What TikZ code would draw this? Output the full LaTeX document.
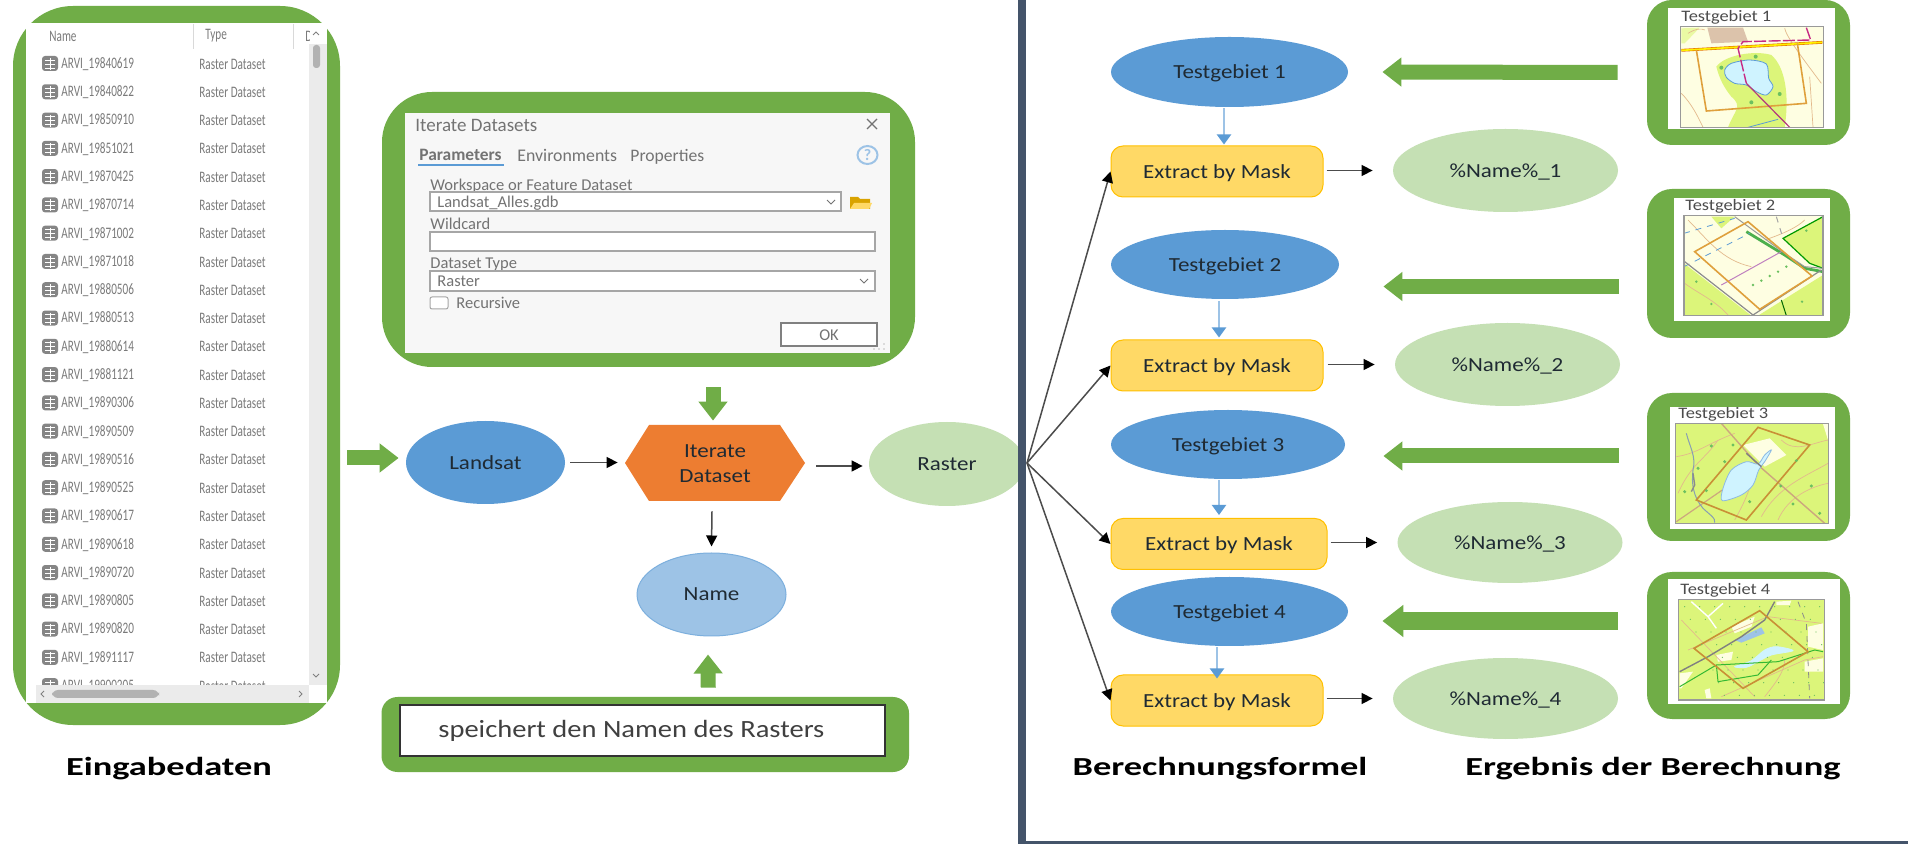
\documentclass[tikz,border=0pt]{standalone}
\usepackage{fontspec}
\usetikzlibrary{shapes.geometric,arrows.meta,calc}
\setmainfont{Carlito}
\newfontfamily\lblfam[FakeStretch=1.15]{Carlito}
\newfontfamily\ttlfam[FakeStretch=1.40]{Carlito}
\newfontfamily\lstfam[FakeStretch=0.7]{Carlito}
\newcommand\lblf{\lblfam\fontsize{10}{12.5}\selectfont}
\newcommand\mapf{\lblfam\fontsize{8}{10}\selectfont}
\newcommand\ttlf{\ttlfam\bfseries\fontsize{13}{15}\selectfont}
\newcommand\lstf{\lstfam\fontsize{8}{10}\selectfont}
\newcommand\dlgf{\fontsize{8.25}{10}\selectfont}
\definecolor{grn}{HTML}{70AD47}
\definecolor{lgrn}{HTML}{C5E0B4}
\definecolor{blu}{HTML}{5B9BD5}
\definecolor{lblu}{HTML}{9DC3E6}
\definecolor{org}{HTML}{ED7D31}
\definecolor{yel}{HTML}{FFD966}
\definecolor{yelb}{HTML}{FFC000}
\definecolor{bar}{HTML}{44546A}
\definecolor{txt}{HTML}{1F2A33}
\definecolor{cream}{HTML}{FEFEE2}
\definecolor{mgrn}{HTML}{DCF57A}
\definecolor{lake}{HTML}{CFF3FF}
\definecolor{mor}{HTML}{DFA03C}
\definecolor{tan}{HTML}{E3B98C}
\definecolor{mbrown}{HTML}{DCC3AB}
\definecolor{mdot}{HTML}{6CC060}
\tikzset{
  panel/.style={fill=grn,rounded corners=12.5pt,inner sep=0pt},
  oval/.style={ellipse,inner sep=0pt,font=\lblf,text=txt,align=center,text depth=0pt},
  bluov/.style={oval,fill=blu},
  greenov/.style={oval,fill=lgrn},
  mask/.style={rounded corners=6pt,fill=yel,draw=yelb,line width=.5pt,inner sep=0pt,minimum width=106pt,minimum height=25.5pt,font=\lblf,text=txt,text depth=0pt},
  thin arrow/.style={draw=black!70,line width=.75pt,-{Triangle[length=5.5pt,width=5.5pt,color=black]}},
  blue arrow/.style={draw=lblu,line width=1pt,-{Triangle[length=5pt,width=7pt,color=blu]}},
  block arrow/.style={draw=grn,line width=7.5pt,-{Triangle[length=9.5pt,width=14pt]}},
  title/.style={font=\ttlf,text=black,inner sep=0pt,text depth=0pt},
  lst/.style={font=\lstf,text=black!52,inner sep=0pt,anchor=west},
  dlg/.style={font=\dlgf,text=black!55,inner sep=0pt,anchor=west,text depth=0pt},
  fieldbox/.style={fill=white,draw=black!35,line width=.6pt},
  maptitle/.style={font=\mapf,text=black!70,inner sep=0pt,anchor=west},
  mapframe/.style={draw=black!40,line width=.6pt},
  contour/.style={draw=tan,line width=.35pt},
}
\begin{document}
\begin{tikzpicture}[x=.5pt,y=-.5pt]
\useasboundingbox (0,0) rectangle (1908,844);
\fill[white] (0,0) rectangle (1908,844);

% ---------- input list
\node[panel,rounded corners=30pt,minimum width=163.5pt,minimum height=359.5pt] (inp) at (176.5,365.5) {};
\fill[white] (26,23) rectangle (327,703);
\begin{scope}
\clip (26,23) rectangle (309,685);
\draw[black!15,line width=.5pt] (193,24) -- (193,49) (293,24) -- (293,49);
\node[lst] (hname) at (49,36) {Name};
\node[lst] (htype) at (205,36) {Type};
\node[lst] (hdate) at (305,36) {D};
\foreach \n [count=\i from 0] in {19840619,19840822,19850910,19851021,19870425,19870714,19871002,19871018,19880506,19880513,19880614,19881121,19890306,19890509,19890516,19890525,19890617,19890618,19890720,19890805,19890820,19891117,19900205}{
  \pgfmathsetmacro\yy{64+28.28*\i}
  \fill[black!48,rounded corners=1.5pt] (42,{\yy-8}) rectangle (58,{\yy+7});
  \draw[white,line width=.4pt] (45,{\yy-4}) -- (55,{\yy-4}) (45,{\yy}) -- (55,{\yy}) (45,{\yy+4}) -- (55,{\yy+4}) (50,{\yy-6}) -- (50,{\yy+6});
  \node[lst] (nm\i) at (61,\yy) {ARVI\_\n};
  \node[lst] (ty\i) at (199,\yy) {Raster Dataset};
}
\end{scope}
\fill[black!8] (309,44) rectangle (327,685);
\fill[black!30,rounded corners=1.5pt] (313,45) rectangle (320,68);
\draw[black!50,line width=.4pt] (313,35) -- (316,32) -- (319,35);
\draw[black!50,line width=.4pt] (313,674) -- (316,677) -- (319,674);
\fill[black!8] (36,685) rectangle (309,703);
\fill[black!30,rounded corners=3pt] (52,690) rectangle (159,698);
\draw[black!50,line width=.4pt] (44,691) -- (41,694) -- (44,697);
\draw[black!50,line width=.4pt] (299,691) -- (302,694) -- (299,697);
\node[title] (lbla) at (169,766) {Eingabedaten};

% ---------- dialog
\node[panel,rounded corners=25pt,minimum width=266.5pt,minimum height=137.5pt] (dia) at (648.5,229.5) {};
\fill[black!3] (405,113) rectangle (890,353);
\node[dlg,font=\fontsize{9.5}{11}\selectfont] (dt) at (415,125) {Iterate Datasets};
\draw[black!55,line width=.6pt] (867,119) -- (877,129) (877,119) -- (867,129);
\node[dlg,font=\bfseries\fontsize{8.7}{10}\selectfont] (t1a) at (419,155) {Parameters};
\node[dlg,font=\fontsize{8.9}{10}\selectfont] (t2a) at (517,155) {Environments};
\node[dlg,font=\fontsize{8.8}{10}\selectfont] (t3a) at (630,155) {Properties};
\fill[blu] (418,164) rectangle (504,166.5);
\draw[lblu,line width=1pt] (867.5,155) circle[x radius=10,y radius=9];
\node[inner sep=0pt,font=\fontsize{8}{9}\selectfont\bfseries,text=lblu] (help) at (867.5,155) {?};
\node[dlg] (w1) at (430,185) {Workspace or Feature Dataset};
\draw[fieldbox] (430,192) rectangle (841,211);
\node[dlg] (w2) at (437,202) {Landsat\_Alles.gdb};
\draw[black!55,line width=.5pt] (827,200) -- (831,204) -- (835,200);
\fill[yelb!85!black] (850,209) -- (850,197) -- (858,197) -- (860,199) -- (870,199) -- (870,209) -- cycle;
\fill[yel] (850,209) -- (854,203) -- (872,203) -- (869,209) -- cycle;
\node[dlg] (w3) at (430,224) {Wildcard};
\draw[fieldbox] (430,232) rectangle (875,251);
\node[dlg] (w4) at (430,263) {Dataset Type};
\draw[fieldbox] (430,271) rectangle (875,291);
\node[dlg] (w5) at (437,281) {Raster};
\draw[black!55,line width=.5pt] (860,279) -- (864,283) -- (868,279);
\draw[fill=white,draw=black!35,line width=.5pt,rounded corners=1pt] (430,297) rectangle (448,309);
\node[dlg] (w6) at (456,303) {Recursive};
\draw[fill=white,draw=black!50,line width=.7pt] (781,323) rectangle (877,346);
\node[dlg,anchor=center] (okb) at (829,335) {OK};
\foreach \a/\b in {884/344,884/349,879/349,874/349}{\fill[black!25] (\a,\b) circle[radius=.8];}

% ---------- flow, left
\node[bluov,minimum width=79.5pt,minimum height=41.5pt] (land) at (485.5,462.5) {Landsat};
\fill[org] (625,463) -- (649,425) -- (780,425) -- (805,463) -- (780,501) -- (649,501) -- cycle;
\node[inner sep=0pt,minimum width=90pt,minimum height=38pt,font=\lblf,text=txt,align=center] (hex) at (715,464) {Iterate\\Dataset};
\node[greenov,minimum width=78pt,minimum height=42pt] (rast) at (947,464) {Raster};
\node[oval,fill=lblu,draw=blu!80,line width=.5pt,minimum width=74.5pt,minimum height=41.5pt] (name) at (711.5,594.5) {Name};
\node[panel,rounded corners=8pt,minimum width=263.75pt,minimum height=37.5pt] (spei) at (645.25,734.5) {};
\node[draw=black!80,line width=.6pt,fill=white,minimum width=242.5pt,minimum height=25.5pt,inner sep=0pt] (speit) at (642.5,730.5) {};
\node[inner sep=0pt,font=\lblfam\fontsize{12.4}{14}\selectfont,text=black!75,anchor=west] (speil) at (438,731) {speichert den Namen des Rasters};
\draw[thin arrow] ([shift={(5,0)}]land.east) -- ([shift={(-7,-1.5)}]hex.west);
\draw[thin arrow] ([shift={(11,2)}]hex.east) -- ([shift={(-6,2)}]rast.west);
\draw[thin arrow] ([shift={(-3,9)}]hex.south) -- ([shift={(0,-6)}]name.north);
\coordinate (inR) at (347,458);
\draw[block arrow] (inR) -- ([shift={(-7,-4.5)}]land.west);
\draw[block arrow] ([shift={(64.5,20)}]dia.south) -- ([shift={(-2,-5)}]hex.north);
\draw[block arrow] ([shift={(63,-9)}]spei.north) -- ([shift={(-3.5,18)}]name.south);

% ---------- divider frame
\fill[bar] (1018,0) rectangle (1026,844);
\fill[bar] (1018,841) rectangle (1908,844);

% ---------- right: map panels
\node[panel,minimum width=101.5pt,minimum height=72.5pt] (m1) at (1748.5,72.5) {};
\node[panel,minimum width=101.5pt,minimum height=74.5pt] (m2) at (1748.5,263.5) {};
\node[panel,minimum width=101.5pt,minimum height=74pt] (m3) at (1748.5,467) {};
\node[panel,minimum width=101.5pt,minimum height=73.5pt] (m4) at (1748.5,645.5) {};
\fill[white] (1668,8) rectangle (1835,129);
\fill[white] (1674,198) rectangle (1830,321);
\fill[white] (1670,407) rectangle (1835,529);
\fill[white] (1668,579) rectangle (1840,704);
\node[maptitle] (mt1) at (1681,17) {Testgebiet 1};
\node[maptitle] (mt2) at (1685,206) {Testgebiet 2};
\node[maptitle] (mt3) at (1678,414) {Testgebiet 3};
\node[maptitle] (mt4) at (1680,590) {Testgebiet 4};

% map 1
\begin{scope}[shift={(1388,0)},x=.16667pt,y=-.16667pt]
\begin{scope}
\clip (877,80) rectangle (1307,382);
\fill[cream] (877,80) rectangle (1307,382);
\fill[mgrn!60!cream] (880,85) -- (935,83) -- (890,130) -- (880,130) -- cycle;
\fill[mgrn] (985,200) .. controls (1010,165) and (1100,150) .. (1150,165) .. controls (1190,200) and (1205,280) .. (1190,382) -- (1020,382) .. controls (1040,330) and (1065,320) .. (1030,290) .. controls (1010,265) and (995,240) .. (985,200) -- cycle;
\fill[mbrown] (958,83) -- (1065,83) -- (1080,125) -- (970,130) -- cycle;
\draw[contour] (880,280) .. controls (910,310) and (930,350) .. (945,382);
\draw[contour] (1190,85) .. controls (1195,110) and (1240,170) .. (1300,250);
\draw[contour] (1265,230) -- (1275,382);
\draw[contour] (900,100) .. controls (925,85) and (940,85) .. (950,90);
\draw[fill=lake,draw=blu,line width=.4pt] plot[smooth cycle] coordinates {(1010,210) (1030,190) (1085,180) (1135,192) (1142,235) (1155,260) (1135,285) (1105,275) (1075,255) (1040,250) (1015,232)};
\draw[orange!90!black,line width=1.4pt] (880,151) -- (1303,127);
\draw[yellow,line width=.8pt] (880,151) -- (1303,127);
\draw[mor,line width=.8pt] (925,150) -- (955,333) -- (1255,310) -- (1228,130);
\draw[blu,line width=.4pt] (1080,382) -- (1170,358);
\draw[magenta!80!black,line width=.7pt,dash pattern=on 6pt off 1.2pt] (1255,83) -- (1268,120) -- (1065,125) -- (1050,145) -- (1075,250);
\draw[magenta!70!black,line width=.6pt] (1075,250) -- (1205,382);
\foreach \a/\b in {1000/203,1103/170,1090/307,1175/282}{\fill[mdot] (\a,\b) circle[radius=6];}
\end{scope}
\draw[mapframe] (877,80) rectangle (1307,382);
\end{scope}

% map 2
\begin{scope}[shift={(1388,0)},x=.16667pt,y=-.16667pt]
\begin{scope}
\clip (888,647) rectangle (1305,947);
\fill[cream] (888,647) rectangle (1305,947);
\fill[mgrn] (970,650) -- (1040,650) -- (1000,685) -- cycle;
\fill[mgrn] (888,790) -- (1090,947) -- (888,947) -- cycle;
\fill[mgrn] (1110,947) -- (1305,825) -- (1305,947) -- cycle;
\draw[fill=mgrn,draw=green!60!black,line width=.6pt] (1185,715) -- (1305,650) -- (1305,805) -- (1265,790) -- cycle;
\draw[contour] (900,660) .. controls (960,720) and (1000,780) .. (1090,800);
\draw[contour] (1130,720) .. controls (1190,700) and (1230,680) .. (1250,660);
\draw[contour] (890,850) .. controls (930,880) and (980,900) .. (1020,945);
\draw[green!55!black!70,line width=1.4pt] (1075,695) -- (1190,765) -- (1250,805) -- (1305,815);
\draw[black!40,line width=.5pt] (1040,650) -- (1190,760) -- (1250,800) -- (1305,805);
\draw[blu,line width=.4pt,dashed] (888,700) -- (1040,655);
\draw[blu,line width=.4pt,dashed] (888,800) -- (1085,700);
\draw[violet!50,line width=.5pt] (1000,855) -- (1180,755);
\draw[black!45,line width=.6pt] (890,785) -- (1095,945) -- (1300,810);
\draw[black!35,line width=.5pt,dashed] (1165,650) -- (1185,715);
\draw[green!40!black,line width=.5pt] (1180,900) -- (1195,947);
\draw[mor,line width=.8pt] (920,755) -- (1080,665) -- (1272,828) -- (1115,928) -- cycle;
\foreach \a/\b in {925/845,970/912,1242/905,1095/855,1120/842,1145/828,1170/815,1195/800,1255/692}{\fill[mdot] (\a,\b) circle[radius=4];}
\end{scope}
\draw[mapframe] (888,647) rectangle (1305,947);
\end{scope}

% map 3
\begin{scope}[shift={(1388,420)},x=.16667pt,y=-.16667pt]
\begin{scope}
\clip (862,10) rectangle (1322,310);
\fill[mgrn] (862,10) rectangle (1322,310);
\fill[cream] (1065,75) -- (1145,55) -- (1195,105) -- (1130,140) -- cycle;
\fill[cream] (1305,12) -- (1320,12) -- (1320,60) -- cycle;
\draw[contour] (865,110) .. controls (930,100) and (960,70) .. (1040,40);
\draw[contour] (870,220) .. controls (910,130) and (950,120) .. (990,60);
\draw[contour] (1120,290) .. controls (1170,200) and (1250,170) .. (1320,130);
\draw[contour] (1170,300) .. controls (1200,230) and (1270,200) .. (1320,190);
\draw[contour] (1040,300) .. controls (1080,230) and (1100,170) .. (1090,150);
\draw[contour] (1180,60) .. controls (1220,100) and (1270,70) .. (1320,60);
\draw[tan!90!black,line width=.7pt] (1000,10) -- (1110,135) -- (1310,310);
\draw[tan!90!black,line width=.6pt] (865,305) -- (1003,210);
\draw[blu!60!black!60,line width=.5pt] (895,40) .. controls (905,80) and (925,110) .. (915,150) .. controls (910,190) and (915,230) .. (945,265) .. controls (960,280) and (985,295) .. (980,308);
\draw[black!45,line width=.7pt] (915,160) -- (920,195) -- (910,215);
\draw[fill=lake,draw=blu!70,line width=.4pt] plot[smooth cycle] coordinates {(1003,242) (1005,205) (1030,150) (1075,125) (1110,132) (1130,105) (1150,90) (1130,125) (1112,150) (1095,195) (1060,225)};
\draw[black!50,line width=.7pt] (1075,100) -- (1120,140);
\draw[mor!90!black,line width=.8pt] (925,240) -- (1110,22) -- (1265,75) -- (1075,300) -- cycle;
\foreach \a/\b in {970/78,1035/75,930/145,1010/125,890/215,955/212,1085/245,1178/198,1270/198,1215/252,1295/280,1225/122}{\fill[mdot] (\a,\b) circle[radius=5];}
\end{scope}
\draw[mapframe] (862,10) rectangle (1322,310);
\end{scope}

% map 4
\begin{scope}[shift={(1388,420)},x=.16667pt,y=-.16667pt]
\begin{scope}
\clip (872,538) rectangle (1310,840);
\fill[mgrn] (872,538) rectangle (1310,840);
\fill[cream] (1260,620) -- (1305,610) -- (1305,690) -- (1260,680) -- cycle;
\fill[cream] (1250,725) -- (1305,715) -- (1305,755) -- (1250,755) -- cycle;
\fill[cream] (875,760) -- (915,755) -- (880,805) -- (875,805) -- cycle;
\fill[cream] (985,705) -- (1035,695) -- (1030,720) -- (990,725) -- cycle;
\fill[cream] (1030,620) -- (1100,590) -- (1090,620) -- (1040,640) -- cycle;
\fill[cream] (1165,545) -- (1210,542) -- (1205,555) -- (1165,555) -- cycle;
\fill[cream] (950,810) -- (965,805) -- (970,835) -- (955,835) -- cycle;
\draw[white,line width=.7pt] (910,545) -- (960,590) -- (1005,550) (960,590) -- (985,625);
\draw[contour] (880,600) -- (1100,830);
\draw[contour] (900,690) -- (1140,590) -- (1300,610);
\draw[contour] (1000,830) -- (1250,720) -- (1305,710);
\draw[contour] (1130,830) .. controls (1170,780) and (1190,750) .. (1190,720);
\draw[fill=lake,draw=lake] plot[smooth cycle] coordinates {(1040,740) (1090,722) (1130,690) (1165,680) (1215,692) (1150,705) (1110,725) (1075,742)};
\fill[blu!60] (1040,660) -- (1120,622) -- (1130,640) -- (1060,668) -- cycle;
\draw[black!50,line width=.7pt] (875,755) -- (960,710) -- (1060,650) -- (1130,600) -- (1160,545);
\draw[black!45,line width=.4pt,dashed] (1230,545) -- (1255,610) -- (1265,835);
\draw[green!65!black!80,line width=.5pt] (875,800) -- (985,735) -- (1170,725) -- (1280,690) -- (1305,695);
\draw[green!65!black!80,line width=.5pt] (985,735) -- (990,785) -- (1110,765) -- (1150,720);
\draw[mor!90!black,line width=.8pt] (918,685) -- (1115,572) -- (1260,695) -- (1065,805) -- cycle;
\foreach \i in {0,...,9}{\foreach \j in {0,...,7}{\fill[mdot] ({890+\i*45+(\j*17)},{560+\j*38}) circle[radius=2];}}
\end{scope}
\draw[mapframe] (872,538) rectangle (1310,840);
\end{scope}

% ---------- right: flow nodes
\node[bluov,minimum width=118.5pt,minimum height=35pt] (t1) at (1229.5,72) {Testgebiet 1};
\node[bluov,minimum width=114pt,minimum height=34.5pt] (t2) at (1225,264.5) {Testgebiet 2};
\node[bluov,minimum width=117pt,minimum height=34.5pt] (t3) at (1228,444.5) {Testgebiet 3};
\node[bluov,minimum width=118.5pt,minimum height=34.5pt] (t4) at (1229.5,611.5) {Testgebiet 4};
\node[mask] (b1) at (1217,171.5) {Extract by Mask};
\node[mask] (b2) at (1217,365.5) {Extract by Mask};
\node[mask,minimum width=108pt] (b3) at (1219,544) {Extract by Mask};
\node[mask] (b4) at (1217,700.5) {Extract by Mask};
\node[greenov,minimum width=112.5pt,minimum height=41.5pt] (r1) at (1505.5,170.5) {\%Name\%\_1};
\node[greenov,minimum width=112.5pt,minimum height=41.5pt] (r2) at (1507.5,364.5) {\%Name\%\_2};
\node[greenov,minimum width=112.5pt,minimum height=40.5pt] (r3) at (1510,542.5) {\%Name\%\_3};
\node[greenov,minimum width=112.5pt,minimum height=40.5pt] (r4) at (1505.5,698.5) {\%Name\%\_4};
\draw[blue arrow] ([shift={(-5.5,1)}]t1.south) -- ([shift={(7,-1)}]b1.north);
\draw[blue arrow] ([shift={(-6,2)}]t2.south) -- ([shift={(2,-2)}]b2.north);
\draw[blue arrow] ([shift={(-9,1)}]t3.south) -- ([shift={(0,-3)}]b3.north);
\draw[blue arrow] ([shift={(-12.5,1)}]t4.south) -- ([shift={(0,4)}]b4.north);
\draw[thin arrow] ([shift={(3,-1)}]b1.east) -- ([shift={(-20,0)}]r1.west);
\draw[thin arrow] ([shift={(4,-1)}]b2.east) -- ([shift={(-20,0)}]r2.west);
\draw[thin arrow] ([shift={(3,-1.5)}]b3.east) -- ([shift={(-20,0)}]r3.west);
\draw[thin arrow] ([shift={(3,-2)}]b4.east) -- ([shift={(-20,0)}]r4.west);
\coordinate (fan) at (1027,463);
\foreach \b in {b1,b2,b3,b4}{\draw[thin arrow] (fan) -- (\b.west);}
\draw[block arrow] ([shift={(-29,0)}]m1.west) -- ([shift={(34,0)}]t1.east);
\draw[block arrow] ([shift={(-28,23)}]m2.west) -- ([shift={(44,22)}]t2.east);
\draw[block arrow] ([shift={(-28,-11)}]m3.west) -- ([shift={(38,11.5)}]t3.east);
\draw[block arrow,line width=9pt,-{Triangle[length=10.5pt,width=15.5pt]}] ([shift={(-29,-24.5)}]m4.west) -- ([shift={(34,9.5)}]t4.east);
\node[title] (lblb) at (1220,766) {Berechnungsformel};
\node[title] (lblc) at (1653,766) {Ergebnis der Berechnung};
\end{tikzpicture}
\end{document}
